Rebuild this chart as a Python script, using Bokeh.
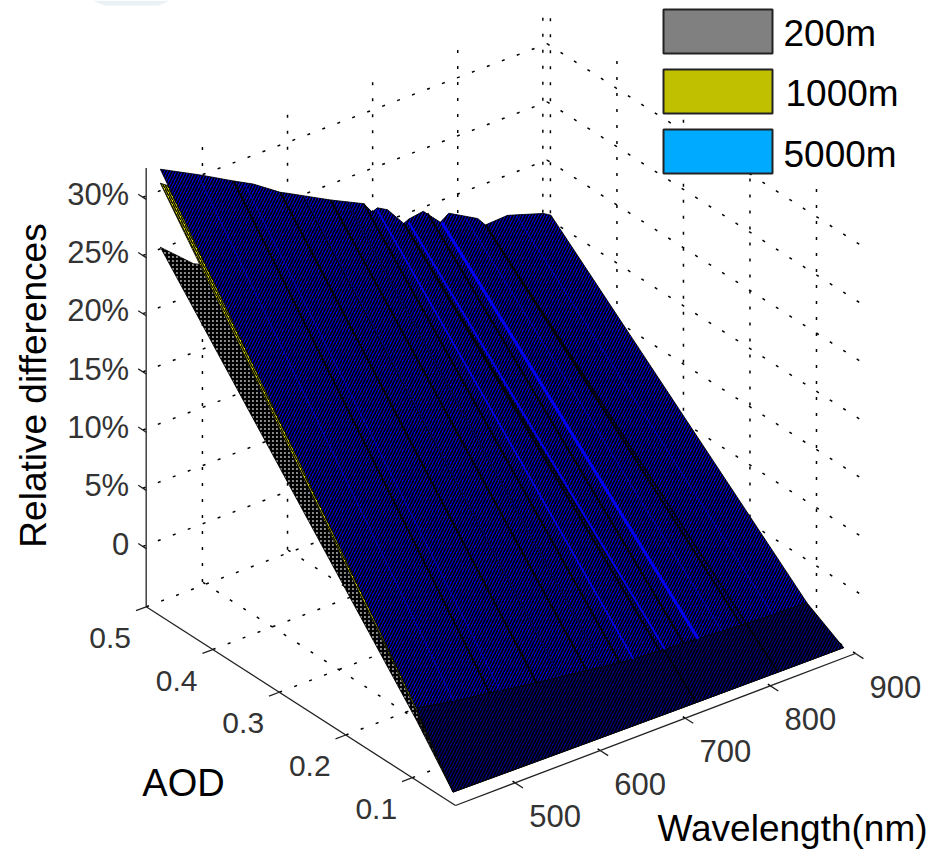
from bokeh.plotting import figure
from bokeh.embed import file_html
from bokeh.resources import INLINE
from bokeh.core.properties import value
from bokeh.models import Range1d
import math

# ---- values ----
WL_TICKS = [500, 600, 700, 800, 900]
AOD_TICKS = [0.1, 0.2, 0.3, 0.4, 0.5]
Z_TICKS = [0, 5, 10, 15, 20, 25, 30]
Z_TICK_LABELS = ["0", "5%", "10%", "15%", "20%", "25%", "30%"]
AOD_ROWS = [0.04, 0.095, 0.48]
SERIES_NAMES = ["200m", "1000m", "5000m"]

WL_5000 = [431, 478, 517, 540, 572, 580, 631, 670, 680, 686, 698, 717, 723, 740, 760, 770, 804, 813, 839, 881, 890]
Z_5000_TOP = [33.3, 31.5, 29.9, 29.0, 27.4, 27.1, 25.1, 23.7, 22.7, 22.9, 22.4, 20.7, 20.9, 21.1, 19.6, 20.1, 18.7, 17.9, 18.0, 17.0, 16.6]
Z_5000_MID = [1.13, 0.45, 0.05, -0.26, -0.6, -0.7, -1.2, -1.6, -1.7, -1.74, -1.8, -1.9, -1.95, -2.0, -2.1, -2.15, -2.3, -2.35, -2.45, -2.55, -2.58]
Z_5000_BOT = [-4.06, -4.1, -4.13, -4.15, -4.18, -4.2, -4.24, -4.27, -4.28, -4.29, -4.3, -4.31, -4.32, -4.33, -4.34, -4.35, -4.37, -4.38, -4.39, -4.4, -4.4]

WL_1000 = [431, 480, 580, 700, 890]
Z_1000_TOP = [32.1, 29.6, 25.6, 21.2, 15.2]
Z_1000_MID = [0.9, 0.0, -1.0, -2.1, -3.0]
Z_1000_BOT = [-4.06, -4.12, -4.2, -4.3, -4.4]

WL_200 = [431, 470, 560, 700, 890]
Z_200_TOP = [26.6, 24.1, 21.0, 17.0, 13.0]
Z_200_MID = [0.1, -0.5, -1.3, -2.3, -3.2]
Z_200_BOT = [-4.06, -4.1, -4.2, -4.3, -4.4]

BRIGHT_WL = [686, 723, 762, 475, 530, 600, 650, 790, 850]
BRIGHT_TOP = [22.7, 20.6, 19.5, 31.6, 29.3, 26.3, 24.4, 19.1, 17.6]
BRIGHT_MID = [-1.74, -1.95, -2.1, 0.47, -0.2, -0.9, -1.4, -2.25, -2.5]
BRIGHT_W = [1.6, 2.0, 3.0, 0.8, 0.8, 0.8, 0.8, 0.8, 0.8]
BRIGHT_C = ["#0000E6", "#0000E6", "#0000F0", "#0000C8", "#0000C8", "#0000C8", "#0000C8", "#0000C8", "#0000C8"]

DARK_WL = [517, 572, 600, 631, 650, 717, 813, 670, 745]
DARK_TOP = [29.9, 27.4, 26.2, 25.1, 24.4, 20.7, 17.9, 23.7, 20.8]
DARK_MID = [0.05, -0.6, -0.9, -1.2, -1.4, -1.9, -2.35, -1.6, -2.02]
THROUGH_WL = [717, 813]
THROUGH_TOP = [20.7, 17.9]
THROUGH_BOT = [-4.31, -4.38]

# ---- projection of the 3-D axes on to the page ----
def px(w, a, z):
    return 455 + 0.851 * (w - 430) - 665.2 * (a - 0.035)

def py(w, a, z):
    return 805 - 0.3234 * (w - 430) - 427.3 * (a - 0.035) - 11.64 * (z + 5)

def proj(w, a, z):
    return px(w, a, z), py(w, a, z)

WL_MIN, WL_WALL, A_MIN, A_MAX, A_WALL, Z_MIN, Z_MAX = 430, 905, 0.035, 0.5, 0.505, -5, 32.7

p = figure(width=933, height=851, output_backend="svg", toolbar_location=None,
           x_range=Range1d(0, 933), y_range=Range1d(851, 0), min_border=0,
           outline_line_color=None, background_fill_color="white", border_fill_color="white")
p.axis.visible = False
p.grid.visible = False

# faint remains at the page's top edge
p.patch([92, 170, 158, 104], [0, 0, 5, 5], fill_color="#eaf2f6", line_color=None)

# grid on walls and floor
gx, gy = [], []
def seg(a, b):
    gx.append([a[0], b[0]])
    gy.append([a[1], b[1]])

for w in WL_TICKS:
    seg(proj(w, A_WALL, Z_MIN), proj(w, A_WALL, Z_MAX))
    seg(proj(w, A_MIN, Z_MIN), proj(w, A_WALL, Z_MIN))
for a in AOD_TICKS:
    seg(proj(WL_WALL, a, Z_MIN), proj(WL_WALL, a, Z_MAX))
    seg(proj(WL_MIN, a, Z_MIN), proj(WL_WALL, a, Z_MIN))
for z in Z_TICKS:
    seg(proj(WL_MIN, A_WALL, z), proj(WL_WALL, A_WALL, z))
    seg(proj(WL_WALL, A_WALL, z), proj(WL_WALL, A_MIN, z))
p.multi_line(gx, gy, line_color="black", line_width=1.5, line_dash="3 13")

# box axes
ax, ay = [], []
for s, e in [((WL_MIN, A_MAX, Z_MIN), (WL_MIN, A_MAX, Z_MAX)),
             ((WL_MIN, A_MAX, Z_MIN), (WL_MIN, A_MIN, Z_MIN)),
             ((WL_MIN, A_MIN, Z_MIN), (900, A_MIN, Z_MIN))]:
    a_, b_ = proj(*s), proj(*e)
    ax.append([a_[0], b_[0]])
    ay.append([a_[1], b_[1]])
for z in Z_TICKS:
    a_, b_ = proj(WL_MIN, A_MAX, z), proj(WL_MIN, A_MAX + 0.012, z)
    ax.append([a_[0], b_[0]]); ay.append([a_[1], b_[1]])
for a in AOD_TICKS:
    a_, b_ = proj(WL_MIN, a, Z_MIN), proj(WL_MIN - 12, a, Z_MIN)
    ax.append([a_[0], b_[0]]); ay.append([a_[1], b_[1]])
for w in WL_TICKS:
    a_, b_ = proj(w, A_MIN, Z_MIN), proj(w, A_MIN - 0.012, Z_MIN)
    ax.append([a_[0], b_[0]]); ay.append([a_[1], b_[1]])
p.multi_line(ax, ay, line_color="#222222", line_width=1.3)

def surface(wl, a0, z0, a1, z1, fill, hatch, scale, weight, pattern="right_diagonal_line"):
    xs = [px(w, a0, z) for w, z in zip(wl, z0)] + [px(w, a1, z) for w, z in zip(reversed(wl), reversed(z1))]
    ys = [py(w, a0, z) for w, z in zip(wl, z0)] + [py(w, a1, z) for w, z in zip(reversed(wl), reversed(z1))]
    p.patch(xs, ys, fill_color=fill, line_color="black", line_width=0.8,
            hatch_pattern=pattern, hatch_color=hatch, hatch_scale=scale, hatch_weight=weight)

# painter's order: 200 m, 1000 m, 5000 m
surface(WL_200, AOD_ROWS[1], Z_200_MID, AOD_ROWS[2], Z_200_TOP, "#8C8C8C", "black", 4, 2.2, "cross")
surface(WL_200, AOD_ROWS[0], Z_200_BOT, AOD_ROWS[1], Z_200_MID, "#303030", "black", 4, 1.6, "cross")
surface(WL_1000, AOD_ROWS[1], Z_1000_MID, AOD_ROWS[2], Z_1000_TOP, "#E0E000", "black", 4, 1.3)
surface(WL_1000, AOD_ROWS[0], Z_1000_BOT, AOD_ROWS[1], Z_1000_MID, "#5C5C00", "black", 4, 1.2)
surface(WL_5000, AOD_ROWS[1], Z_5000_MID, AOD_ROWS[2], Z_5000_TOP, "#0000F0", "black", 6, 1.7)
surface(WL_5000, AOD_ROWS[0], Z_5000_BOT, AOD_ROWS[1], Z_5000_MID, "#000090", "black", 6, 1.7)

# bands along AOD
p.multi_line([[px(w, AOD_ROWS[2], t), px(w, AOD_ROWS[1], m)] for w, t, m in zip(DARK_WL, DARK_TOP, DARK_MID)],
             [[py(w, AOD_ROWS[2], t), py(w, AOD_ROWS[1], m)] for w, t, m in zip(DARK_WL, DARK_TOP, DARK_MID)],
             line_color="black", line_width=1.8)
p.multi_line([[px(w, AOD_ROWS[2], t), px(w, AOD_ROWS[0], b)] for w, t, b in zip(THROUGH_WL, THROUGH_TOP, THROUGH_BOT)],
             [[py(w, AOD_ROWS[2], t), py(w, AOD_ROWS[0], b)] for w, t, b in zip(THROUGH_WL, THROUGH_TOP, THROUGH_BOT)],
             line_color="black", line_width=1.4)
p.multi_line([[px(w, AOD_ROWS[2], t), px(w, AOD_ROWS[1], m)] for w, t, m in zip(BRIGHT_WL, BRIGHT_TOP, BRIGHT_MID)],
             [[py(w, AOD_ROWS[2], t), py(w, AOD_ROWS[1], m)] for w, t, m in zip(BRIGHT_WL, BRIGHT_TOP, BRIGHT_MID)],
             line_color=BRIGHT_C, line_width=BRIGHT_W)

# tick labels
FONT = value("Liberation Sans")
def labels(xs, ys, txt, size, color, align="center", angle=0.0, style="normal"):
    p.text(xs, ys, text=txt, text_font=FONT, text_font_size=value(size), text_color=color,
           text_align=align, text_baseline="middle", angle=angle, text_font_style=style)

labels([px(WL_MIN, A_MAX, z) - 17 for z in Z_TICKS], [py(WL_MIN, A_MAX, z) - 5 for z in Z_TICKS],
       Z_TICK_LABELS, "31px", "#333333", "right")
labels([px(WL_MIN, a, Z_MIN) - 36 for a in AOD_TICKS], [py(WL_MIN, a, Z_MIN) + 31 for a in AOD_TICKS],
       [f"{a:.1f}" for a in AOD_TICKS], "30px", "#333333")
labels([px(w, A_MIN, Z_MIN) + 40 for w in WL_TICKS], [py(w, A_MIN, Z_MIN) + 33 for w in WL_TICKS],
       [str(w) for w in WL_TICKS], "31px", "#333333")

labels([33], [385], ["Relative differences"], "37px", "black", angle=math.pi / 2)
labels([183], [782], ["AOD"], "38px", "black")
labels([792], [828], ["Wavelength(nm)"], "37px", "black")

# legend
LEG_COLORS = ["#808080", "#C0C000", "#00AAFF"]
p.quad(left=[663] * 3, right=[772] * 3, top=[9, 69, 129], bottom=[53, 113, 173],
       fill_color=LEG_COLORS, line_color="#222222", line_width=2)
labels([783, 785, 783], [33, 93, 154], SERIES_NAMES, "37px", "black", "left")

open("out.html", "w").write(file_html(p, INLINE))
